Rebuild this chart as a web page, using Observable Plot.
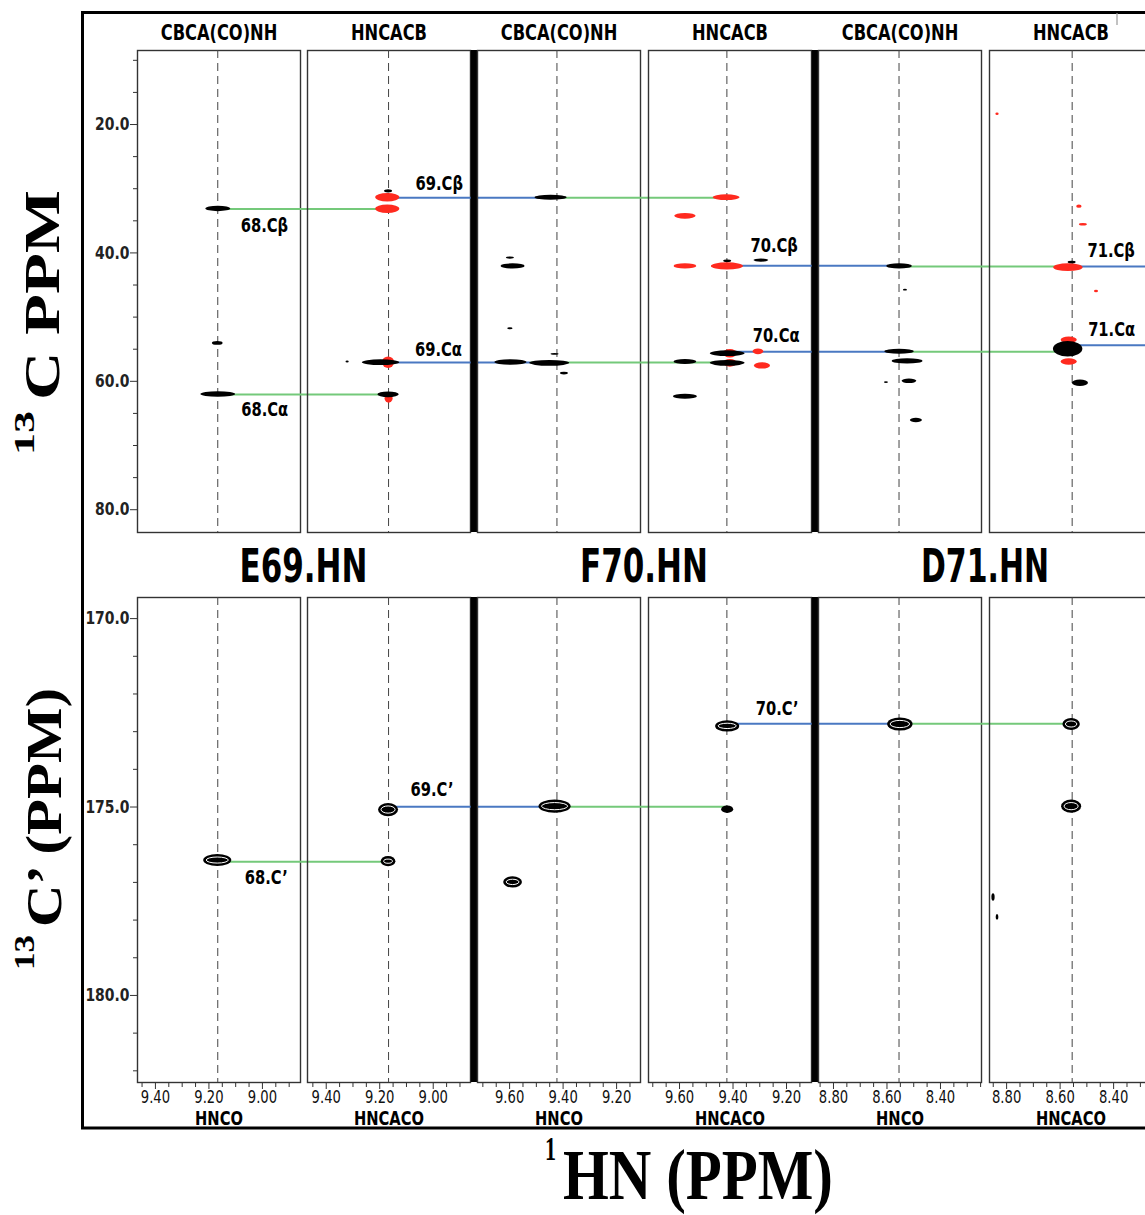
<!DOCTYPE html>
<html>
<head>
<meta charset="utf-8">
<script src="https://cdn.jsdelivr.net/npm/d3@7"></script>
<script src="https://cdn.jsdelivr.net/npm/@observablehq/plot@0.6"></script>
<style>
html,body{margin:0;padding:0;background:#fff;overflow:hidden;}
#fig{position:relative;width:1145px;height:1215px;overflow:hidden;background:#fff;}
#fig svg{position:absolute;}
</style>
</head>
<body>
<div id="fig"></div>
<script>
// ------------------------------------------------------------------ data
const topExperiments    = ["CBCA(CO)NH","HNCACB","CBCA(CO)NH","HNCACB","CBCA(CO)NH","HNCACB"];
const bottomExperiments = ["HNCO","HNCACO","HNCO","HNCACO","HNCO","HNCACO"];
const residueLabels = ["E69.HN","F70.HN","D71.HN"];
const residueHN     = [9.167, 9.423, 8.555];          // 1H ppm of each residue strip
const stripResidue  = [0,0,1,1,2,2];
const stripHNStart  = [9.467, 9.470, 9.720, 9.716, 8.856, 8.864]; // 1H ppm at the left edge of each strip
const hnTickLabels  = [[9.40,9.20,9.00],[9.40,9.20,9.00],[9.60,9.40,9.20],[9.60,9.40,9.20],[8.80,8.60,8.40],[8.80,8.60,8.40]];
const cTickLabels   = [20, 40, 60, 80];
const cMinorTicks   = [10, 15, 25, 30, 35, 45, 50, 55, 65, 70, 75];
const coTickLabels  = [170, 175, 180];
const coMinorTicks  = [171, 172, 173, 174, 176, 177, 178, 179, 181, 182];

// 13C (CA/CB) peaks: [strip, 1H ppm, 13C ppm, 1H linewidth, 13C linewidth, phase (+1 black, -1 red)]
const cbPeaks = [
  [0, 9.165, 33.15, 0.093, 0.85, 1],
  [0, 9.167, 54.1, 0.040, 0.6, 1],
  [0, 9.165, 62.06, 0.130, 0.85, 1],
  [1, 9.170, 31.4, 0.090, 1.3, -1],
  [1, 9.170, 33.2, 0.090, 1.3, -1],
  [1, 9.167, 30.4, 0.030, 0.5, 1],
  [1, 9.167, 57.1, 0.045, 1.8, -1],
  [1, 9.195, 57.1, 0.140, 0.9, 1],
  [1, 9.165, 62.7, 0.030, 1.4, -1],
  [1, 9.167, 62.1, 0.080, 0.9, 1],
  [1, 9.320, 57.0, 0.012, 0.3, 1],
  [2, 9.445, 31.4, 0.120, 0.8, 1],
  [2, 9.597, 40.8, 0.030, 0.35, 1],
  [2, 9.587, 42.1, 0.090, 0.8, 1],
  [2, 9.597, 51.8, 0.020, 0.3, 1],
  [2, 9.430, 55.8, 0.030, 0.3, 1],
  [2, 9.595, 57.07, 0.120, 0.85, 1],
  [2, 9.450, 57.2, 0.150, 0.9, 1],
  [2, 9.395, 58.8, 0.030, 0.4, 1],
  [3, 9.424, 31.4, 0.100, 0.9, -1],
  [3, 9.578, 34.3, 0.080, 0.9, -1],
  [3, 9.578, 42.1, 0.085, 0.8, -1],
  [3, 9.421, 42.1, 0.120, 1.1, -1],
  [3, 9.420, 41.3, 0.030, 0.4, 1],
  [3, 9.294, 41.2, 0.055, 0.5, 1],
  [3, 9.410, 55.7, 0.050, 1.3, -1],
  [3, 9.410, 57.2, 0.050, 1.2, -1],
  [3, 9.578, 57.0, 0.085, 0.8, 1],
  [3, 9.420, 55.7, 0.130, 0.9, 1],
  [3, 9.420, 57.2, 0.130, 0.9, 1],
  [3, 9.305, 55.4, 0.040, 0.9, -1],
  [3, 9.290, 57.6, 0.060, 1.0, -1],
  [3, 9.578, 62.4, 0.090, 0.8, 1],
  [4, 8.553, 42.1, 0.095, 0.8, 1],
  [4, 8.531, 45.8, 0.015, 0.3, 1],
  [4, 8.553, 55.4, 0.110, 0.8, 1],
  [4, 8.523, 56.9, 0.115, 0.8, 1],
  [4, 8.602, 60.2, 0.015, 0.3, 1],
  [4, 8.516, 60.0, 0.055, 0.7, 1],
  [4, 8.490, 66.1, 0.045, 0.7, 1],
  [5, 8.834, 18.4, 0.012, 0.4, -1],
  [5, 8.528, 32.8, 0.020, 0.5, -1],
  [5, 8.513, 35.6, 0.030, 0.4, -1],
  [5, 8.569, 42.3, 0.110, 1.2, -1],
  [5, 8.555, 41.5, 0.030, 0.4, 1],
  [5, 8.464, 46.0, 0.015, 0.4, -1],
  [5, 8.566, 53.6, 0.060, 1.0, -1],
  [5, 8.566, 57.0, 0.060, 1.0, -1],
  [5, 8.570, 55.0, 0.110, 2.4, 1],
  [5, 8.524, 60.3, 0.060, 1.0, 1]
];

// 13C' peaks: [strip, 1H ppm, 13C' ppm, 1H linewidth, 13C' linewidth, phase]
const coPeaks = [
  [0, 9.167, 176.42, 0.105, 0.32, 1],
  [1, 9.167, 176.45, 0.055, 0.27, 1],
  [1, 9.167, 175.08, 0.075, 0.35, 1],
  [2, 9.430, 174.99, 0.120, 0.35, 1],
  [2, 9.587, 177.00, 0.070, 0.30, 1],
  [3, 9.420, 175.07, 0.045, 0.20, 1],
  [3, 9.420, 172.86, 0.090, 0.30, 1],
  [4, 8.550, 172.81, 0.095, 0.35, 1],
  [5, 8.557, 172.81, 0.065, 0.32, 1],
  [5, 8.557, 174.99, 0.075, 0.35, 1],
  [5, 8.849, 177.40, 0.012, 0.20, 1],
  [5, 8.834, 177.93, 0.010, 0.15, 1]
];

// sequential walk: [from strip, 1H from, to strip (null = off the edge), 1H to, carbon ppm, kind, label]
const cbLinks = [
  [0, 9.167, 1, 9.167, 33.15, "match", "68.Cβ"],
  [1, 9.167, 2, 9.445, 31.4, "walk", "69.Cβ"],
  [2, 9.445, 3, 9.424, 31.4, "match", null],
  [3, 9.421, 4, 8.553, 42.0, "walk", "70.Cβ"],
  [4, 8.553, 5, 8.569, 42.1, "match", null],
  [5, 8.569, null, null, 42.1, "walk", "71.Cβ"],
  [0, 9.165, 1, 9.167, 62.06, "match", "68.Cα"],
  [1, 9.195, 2, 9.520, 57.07, "walk", "69.Cα"],
  [2, 9.520, 3, 9.420, 57.07, "match", null],
  [3, 9.420, 4, 8.553, 55.4, "walk", "70.Cα"],
  [4, 8.553, 5, 8.570, 55.4, "match", null],
  [5, 8.570, null, null, 54.4, "walk", "71.Cα"]
];
const coLinks = [
  [0, 9.167, 1, 9.167, 176.45, "match", "68.C’"],
  [1, 9.167, 2, 9.430, 174.99, "walk", "69.C’"],
  [2, 9.430, 3, 9.420, 174.99, "match", null],
  [3, 9.420, 4, 8.550, 172.79, "walk", "70.C’"],
  [4, 8.550, 5, 8.557, 172.79, "match", null]
];

// ------------------------------------------------------------------ styles / layout
const NARROW = '"Liberation Sans Narrow","DejaVu Sans Condensed","Arial Narrow","Liberation Sans",sans-serif';
const SERIF  = '"Liberation Serif","DejaVu Serif",serif';
const CONDENSE = 0.86;
const linkColor = {match: "#74c97a", walk: "#4a78c2"};
const labelOffset = {
  "68.Cβ": [23, 17], "69.Cβ": [27, -14], "70.Cβ": [23, -20], "71.Cβ": [19, -15],
  "68.Cα": [23, 15], "69.Cα": [34, -13], "70.Cα": [25, -16], "71.Cα": [20, -15],
  "68.C’": [27, 16], "69.C’": [22, -17], "70.C’": [28, -15]
};
const stripLeftPx = [137, 307, 477, 648, 818, 989];
const W = 163;
const PX_PER_PPM = 267.5;
const rows = {
  top:    {top: 50,  H: 482, yDomain: [83.55, 8.47],   peaks: cbPeaks, links: cbLinks, ticks: cTickLabels,  minor: cMinorTicks},
  bottom: {top: 597, H: 485, yDomain: [182.31, 169.44], peaks: coPeaks, links: coLinks, ticks: coTickLabels, minor: coMinorTicks}
};

const xDomain = s => [stripHNStart[s], stripHNStart[s] - W / PX_PER_PPM];
const xScaleOf = s => d3.scaleLinear(xDomain(s), [0, W]);
function linkEnd(from, to, hnTo) {
  if (to == null) return xDomain(from)[1];
  const px = stripLeftPx[to] + xScaleOf(to)(hnTo) - stripLeftPx[from];
  return xScaleOf(from).invert(px);
}
function hnTicks(s) {
  const [a, b] = xDomain(s);
  const lo = Math.ceil(b / 0.05 - 1e-6), hi = Math.floor(a / 0.05 + 1e-6);
  return d3.range(lo, hi + 1).map(k => +(k * 0.05).toFixed(2));
}

const fig = document.getElementById("fig");

// ------------------------------------------------------------------ overlay: frame and titles
const ov = d3.select(fig).append("svg")
  .attr("width", 1145).attr("height", 1215)
  .style("left", "0px").style("top", "0px");
ov.append("path").attr("d", "M1150,12.5H82.5V1128H1150")
  .attr("fill", "none").attr("stroke", "#000").attr("stroke-width", 3);
ov.append("line").attr("x1", 1117).attr("x2", 1117).attr("y1", 13).attr("y2", 25)
  .attr("stroke", "#999").attr("stroke-width", 1.2);

residueLabels.forEach((lab, r) => {
  const cx = (stripLeftPx[2 * r] + stripLeftPx[2 * r + 1] + W) / 2;
  ov.append("text").attr("x", cx).attr("y", 582).attr("text-anchor", "middle")
    .attr("font-family", NARROW).attr("font-weight", "bold").attr("font-size", 46)
    .attr("textLength", 128).attr("lengthAdjust", "spacingAndGlyphs").text(lab);
});

function serifText(transform, size, len, str) {
  ov.append("text").attr("transform", transform)
    .attr("font-family", SERIF).attr("font-weight", "bold").attr("font-size", size)
    .attr("textLength", len).attr("lengthAdjust", "spacingAndGlyphs").text(str);
}
serifText("translate(59,400) rotate(-90)", 50, 210, "C PPM");
serifText("translate(34,455) rotate(-90)", 30, 44, "13");
serifText("translate(61,927) rotate(-90)", 50, 239, "C’ (PPM)");
serifText("translate(34,970) rotate(-90)", 30, 35, "13");
serifText("translate(563,1199)", 72, 270, "HN (PPM)");
serifText("translate(545,1160)", 34, 11, "1");

// narrow the sans text drawn by Plot (no narrow face is installed)
function condense(svg) {
  svg.querySelectorAll("text").forEach(t => {
    const len = t.getComputedTextLength();
    if (len > 0) {
      t.setAttribute("textLength", (len * CONDENSE).toFixed(1));
      t.setAttribute("lengthAdjust", "spacingAndGlyphs");
    }
  });
}

// ------------------------------------------------------------------ strips
function strip(s, rowKey) {
  const row = rows[rowKey];
  const H = row.H;
  const peaks = row.peaks.filter(p => p[0] === s)
    .map(([st, hn, c, w, h, ph]) => ({hn, c, w, h, ph}));
  const links = row.links.filter(l => l[0] === s)
    .map(([from, hn, to, hnTo, c, kind, label]) => ({hn, x2: linkEnd(from, to, hnTo), c, kind, label}));
  const labels = links.filter(l => l.label);

  const peakRect = (data, fill) => Plot.rect(data, {
    x1: d => d.hn + d.w / 2, x2: d => d.hn - d.w / 2,
    y1: d => d.c - d.h / 2, y2: d => d.c + d.h / 2,
    fill, rx: 100, ry: 100
  });

  const marks = [];
  if (s === 2 || s === 4) marks.push(Plot.ruleX([xDomain(s)[0]], {stroke: "#000", strokeWidth: 6.5, dx: -3.5}));
  marks.push(Plot.frame({stroke: "#333", strokeWidth: 1.4}));
  marks.push(Plot.ruleX([residueHN[stripResidue[s]]], {stroke: "#444", strokeWidth: 1, strokeDasharray: "8,5"}));
  for (const kind of ["match", "walk"]) {
    marks.push(Plot.ruleY(links.filter(l => l.kind === kind), {y: "c", x1: "hn", x2: "x2", stroke: linkColor[kind], strokeWidth: 2}));
  }
  marks.push(peakRect(peaks.filter(p => p.ph < 0), "#ff2a1f"));
  marks.push(peakRect(peaks.filter(p => p.ph > 0), "#000"));
  if (rowKey === "bottom") {
    marks.push(Plot.rect(peaks.filter(p => p.w > 0.05), {
      x1: d => d.hn + d.w / 2, x2: d => d.hn - d.w / 2,
      y1: d => d.c - d.h / 2, y2: d => d.c + d.h / 2,
      fill: "none", stroke: "#fff", strokeWidth: 1, inset: 3, rx: 100, ry: 100
    }));
  }
  for (const l of labels) {
    marks.push(Plot.text([l], {x: "hn", y: "c", text: "label", textAnchor: "start", lineAnchor: "middle",
      dx: labelOffset[l.label][0], dy: labelOffset[l.label][1],
      fontSize: 19, fontWeight: "bold", fontFamily: NARROW, fill: "#000"}));
  }
  if (rowKey === "top") {
    marks.push(Plot.text([topExperiments[s]], {text: d => d, frameAnchor: "top", lineAnchor: "middle", dy: -17,
      fontSize: 21, fontWeight: "bold", fontFamily: NARROW, fill: "#000"}));
  } else {
    const ticks = hnTicks(s);
    const major = hnTickLabels[s];
    marks.push(Plot.ruleX(ticks.filter(t => !major.includes(t)), {x: d => d, insetTop: H, insetBottom: -5, stroke: "#333"}));
    marks.push(Plot.ruleX(major, {x: d => d, insetTop: H, insetBottom: -7, stroke: "#333"}));
    marks.push(Plot.text(major, {x: d => d, text: d => d.toFixed(2), frameAnchor: "bottom", lineAnchor: "middle", dy: 15,
      fontSize: 17, fontFamily: NARROW, fill: "#111"}));
    marks.push(Plot.text([bottomExperiments[s]], {text: d => d, frameAnchor: "bottom", lineAnchor: "middle", dy: 36,
      fontSize: 19, fontWeight: "bold", fontFamily: NARROW, fill: "#000"}));
  }
  if (s === 0) {
    marks.push(Plot.ruleY(row.minor, {y: d => d, insetLeft: -4, insetRight: W, stroke: "#333"}));
    marks.push(Plot.ruleY(row.ticks, {y: d => d, insetLeft: -7, insetRight: W, stroke: "#333"}));
    marks.push(Plot.text(row.ticks, {y: d => d, text: d => d.toFixed(1), frameAnchor: "left", lineAnchor: "middle",
      textAnchor: "end", dx: -8, fontSize: 18, fontWeight: "bold", fontFamily: NARROW, fill: "#222"}));
  }

  const svg = Plot.plot({
    width: W, height: H,
    marginLeft: 0, marginRight: 0, marginTop: 0, marginBottom: 0,
    x: {domain: xDomain(s), axis: null},
    y: {domain: row.yDomain, axis: null},
    style: {background: "transparent", overflow: "visible", fontFamily: NARROW, maxWidth: "none"},
    marks
  });
  svg.style.position = "absolute";
  svg.style.left = stripLeftPx[s] + "px";
  svg.style.top = row.top + "px";
  svg.style.overflow = "visible";
  fig.appendChild(svg);
  condense(svg);
}

for (const rowKey of ["top", "bottom"]) {
  for (let s = 0; s < 6; s++) strip(s, rowKey);
}
</script>
</body>
</html>
